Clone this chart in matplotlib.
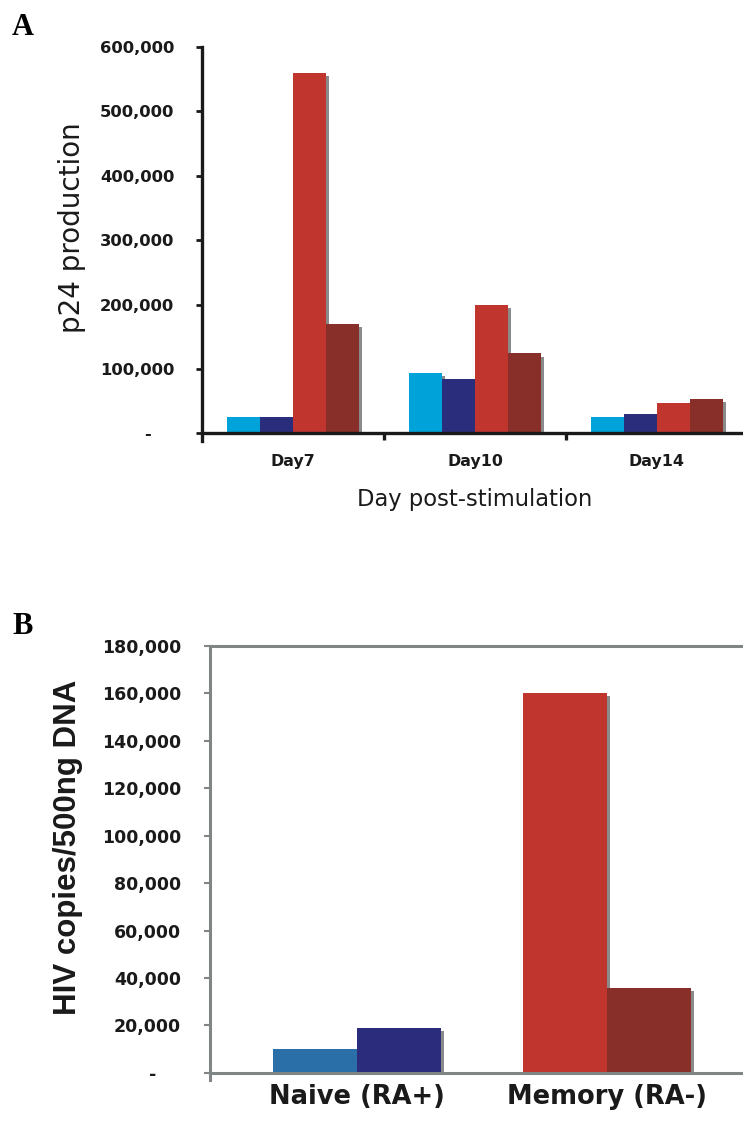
import numpy as np
import matplotlib
matplotlib.use("Agg")
import matplotlib.pyplot as plt
import matplotlib.patheffects as pe
from matplotlib import font_manager as fm
from matplotlib.patches import Rectangle
from matplotlib.ticker import FuncFormatter

# panel A: p24 production per day
days = ["Day7", "Day10", "Day14"]
p24_cyan = [25000, 93000, 26000]
p24_navy = [26000, 85000, 30000]
p24_red = [560000, 200000, 47000]
p24_darkred = [170000, 124000, 54000]

# panel B: HIV copies
cell_types = ["Naive (RA+)", "Memory (RA-)"]
hiv_first = [10000, 160000]
hiv_second = [19000, 36000]

A_COLORS = ["#00a3d9", "#2a2d7c", "#c0362f", "#872f28"]
B_COLORS = [("#2a6fa8", "#2b2c7c"), ("#c0362f", "#872f28")]
TXT = "#1a1a1a"
GRAY = "#7f8685"

# Arial-like bold, but not the Narrow cut
arial_bold = None
for f in fm.fontManager.ttflist:
    if f.name == "Liberation Sans" and f.weight in (700, "bold") and "Narrow" not in f.fname \
            and f.style == "normal":
        arial_bold = f.fname
        break


def bold_sans(size):
    if arial_bold:
        return fm.FontProperties(fname=arial_bold, size=size)
    return fm.FontProperties(family="DejaVu Sans", weight="bold", size=size)


shadow = [pe.SimplePatchShadow(offset=(2.2, -2.2), shadow_rgbFace="#8a8a8a", alpha=1.0),
          pe.Normal()]


def fmt(v, pos):
    if v == 0:
        return "-\u2007\u2007"
    return f"{int(v):,}"


def add_shadow(ax, bars, xlo, xhi, ytop):
    # keep the shadow above the baseline
    clip = Rectangle((xlo, 0), xhi - xlo, ytop, transform=ax.transData)
    for b in bars:
        b.set_path_effects(shadow)
        b.set_clip_path(clip)


fig = plt.figure(figsize=(7.43, 11.22), dpi=100)

# ---------------- panel A ----------------
axA = fig.add_axes([202 / 743, 1 - 441 / 1122, 546 / 743, 394 / 1122])
x = np.arange(len(days))
w = 0.181
series = [p24_cyan, p24_navy, p24_red, p24_darkred]
for i, vals in enumerate(series):
    bars = axA.bar(x + (i - 1.5) * w, vals, width=w, color=A_COLORS[i], zorder=1)
    add_shadow(axA, bars, -0.5, 2.5, 700000)

axA.set_xlim(-0.5, 2.5)
axA.set_ylim(-12000, 600000)
axA.spines["bottom"].set_position(("data", 0))
axA.spines["top"].set_visible(False)
axA.spines["right"].set_visible(False)
for s in ["left", "bottom"]:
    axA.spines[s].set_linewidth(2.4)
    axA.spines[s].set_color(TXT)
    axA.spines[s].set_zorder(3)
axA.set_yticks(np.arange(0, 600001, 100000))
axA.yaxis.set_major_formatter(FuncFormatter(fmt))
axA.tick_params(axis="y", direction="out", length=4, width=2, color=TXT, pad=16,
                labelsize=11.8, labelcolor=TXT)
for lab in axA.get_yticklabels():
    lab.set_fontweight("bold")
axA.set_xticks(x)
axA.set_xticklabels(days, fontsize=11.4, fontweight="bold", color=TXT)
axA.set_xticks([0.5, 1.5], minor=True)
axA.tick_params(axis="x", which="major", length=0, pad=15)
axA.tick_params(axis="x", which="minor", direction="out", length=5, width=2.4, color=TXT)

fig.text(72 / 743, 1 - 228 / 1122, "p24 production", rotation=90, ha="center", va="center",
         fontsize=20, color=TXT)
fig.text(475 / 743, 1 - 500 / 1122, "Day post-stimulation", ha="center", va="center",
         fontsize=16.3, color=TXT)
fig.text(12 / 743, 1 - 35 / 1122, "A", family="Liberation Serif", fontweight="bold",
         fontsize=22, color="black")

# ---------------- panel B ----------------
axB = fig.add_axes([210 / 743, 1 - 1080 / 1122, 544 / 743, 434 / 1122])
xb = np.arange(len(cell_types))
wb = 0.336
for j in range(len(cell_types)):
    for k, vals in enumerate([hiv_first, hiv_second]):
        b = axB.bar(xb[j] + (k - 0.5) * wb, vals[j], width=wb, color=B_COLORS[j][k], zorder=1)
        add_shadow(axB, b, -0.588, 1.588, 200000)

axB.set_xlim(-0.588, 1.588)
axB.set_ylim(-3000, 180000)
axB.spines["bottom"].set_position(("data", 0))
for s in ["left", "bottom", "top", "right"]:
    axB.spines[s].set_linewidth(2.2)
    axB.spines[s].set_color(GRAY)
    axB.spines[s].set_zorder(3)
axB.set_yticks(np.arange(0, 180001, 20000))
axB.yaxis.set_major_formatter(FuncFormatter(fmt))
axB.tick_params(axis="y", direction="out", length=4, width=1.5, color=GRAY, pad=17,
                labelsize=12.5, labelcolor=TXT)
for lab in axB.get_yticklabels():
    lab.set_fontweight("bold")
axB.set_xticks(xb)
axB.set_xticklabels(cell_types, fontsize=18.5, fontweight="bold", color=TXT)
axB.tick_params(axis="x", length=0, pad=8)

fig.text(68 / 743, 1 - 847 / 1122, "HIV copies/500ng DNA", rotation=90, ha="center",
         va="center", fontproperties=bold_sans(22.5), color=TXT)
fig.text(12 / 743, 1 - 634 / 1122, "B", family="Liberation Serif", fontweight="bold",
         fontsize=22, color="black")

fig.savefig("out.png", dpi=100)
